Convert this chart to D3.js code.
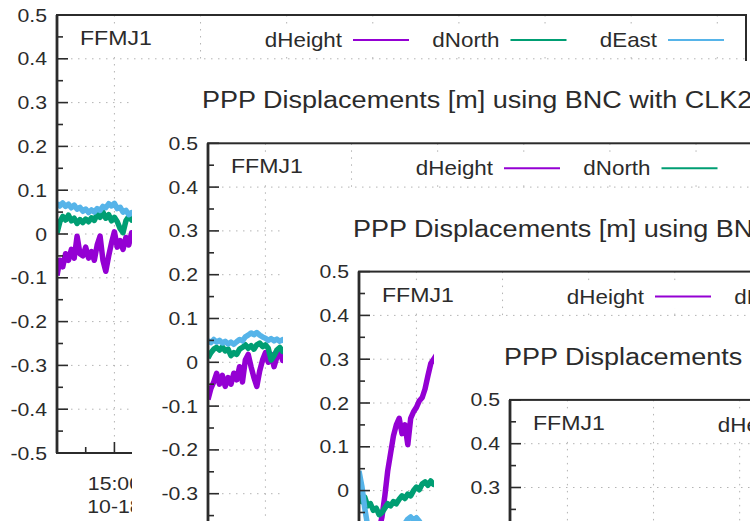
<!DOCTYPE html>
<html>
<head>
<meta charset="utf-8">
<script src="https://cdn.jsdelivr.net/npm/d3@7"></script>
<style>
  body { margin: 0; background: #fff; }
  svg { display: block; }
</style>
</head>
<body>
<svg id="chart" width="750" height="521"></svg>
<script>
const station = "FFMJ1";
const plotTitle = "PPP Displacements [m] using BNC with CLK22";
const seriesNames = ["dHeight", "dNorth", "dEast"];
const seriesColors = ["#9400d3", "#009e73", "#56b4e9"];
const yTicks = [0.5, 0.4, 0.3, 0.2, 0.1, 0, -0.1, -0.2, -0.3, -0.4, -0.5];
const yTickLabels = ["0.5", "0.4", "0.3", "0.2", "0.1", "0", "-0.1", "-0.2", "-0.3", "-0.4", "-0.5"];
const hourTicks = ["15:00", "16:00", "17:00", "18:00", "19:00", "20:00", "21:00", "22:00"];
const dayLabel = "10-18";

// minutes after 14:20
const sampleMinutes = [0, 2, 4, 6, 8, 10, 12, 14, 16, 18, 20, 22, 24, 26, 28, 30, 32, 34, 36, 38, 40, 42, 44, 46, 48, 50, 52, 54];

const heightA = [-0.095, -0.06, -0.075, -0.045, -0.06, -0.035, -0.055, -0.005, -0.045, -0.05, -0.03, -0.055, -0.04, -0.06, -0.025, -0.005, -0.06, -0.085, -0.05, -0.02, 0.005, -0.03, -0.015, -0.035, -0.008, -0.025, 0.003, -0.01];
const northA = [0.002, 0.028, 0.040, 0.032, 0.043, 0.030, 0.036, 0.024, 0.033, 0.026, 0.034, 0.028, 0.037, 0.031, 0.045, 0.038, 0.050, 0.036, 0.044, 0.030, 0.038, 0.028, 0.012, 0.003, 0.030, 0.040, 0.032, 0.038];
const eastA = [0.070, 0.064, 0.071, 0.063, 0.068, 0.060, 0.066, 0.057, 0.061, 0.052, 0.057, 0.049, 0.055, 0.050, 0.058, 0.054, 0.063, 0.060, 0.069, 0.064, 0.070, 0.058, 0.061, 0.050, 0.054, 0.044, 0.049, 0.043];

const heightB = [-0.085, -0.06, -0.045, -0.025, -0.05, -0.03, -0.055, -0.035, -0.05, -0.025, -0.04, -0.01, -0.045, 0.005, 0.018, -0.01, -0.035, -0.055, -0.02, 0.005, 0.022, 0.0, 0.018, -0.01, 0.012, 0.025, 0.004, 0.015];
const northB = [0.010, 0.022, 0.030, 0.034, 0.028, 0.035, 0.026, 0.030, 0.015, 0.022, 0.018, 0.030, 0.034, 0.040, 0.032, 0.038, 0.030, 0.040, 0.044, 0.036, 0.040, 0.032, 0.005, 0.015, 0.028, 0.034, 0.025, 0.030];
const eastB = [0.050, 0.045, 0.052, 0.046, 0.050, 0.044, 0.048, 0.042, 0.046, 0.041, 0.047, 0.052, 0.049, 0.058, 0.062, 0.067, 0.063, 0.068, 0.062, 0.058, 0.055, 0.050, 0.054, 0.049, 0.053, 0.048, 0.052, 0.047];

const heightC = [-0.12, -0.14, -0.13, -0.15, -0.12, -0.10, -0.11, -0.09, -0.06, -0.012, 0.045, 0.085, 0.125, 0.15, 0.165, 0.13, 0.15, 0.105, 0.165, 0.18, 0.19, 0.205, 0.212, 0.232, 0.262, 0.29, 0.30, 0.31];
const northC = [-0.01, -0.025, -0.015, -0.035, -0.03, -0.045, -0.04, -0.055, -0.05, -0.04, -0.03, -0.035, -0.025, -0.03, -0.02, -0.012, -0.018, -0.008, -0.012, 0.0, 0.008, 0.002, 0.015, 0.02, 0.012, 0.022, 0.014, 0.018];
const eastC = [0.045, 0.01, -0.04, -0.08, -0.09, -0.1, -0.11, -0.1, -0.12, -0.11, -0.1, -0.105, -0.09, -0.095, -0.085, -0.08, -0.075, -0.065, -0.06, -0.068, -0.062, -0.07, -0.08, -0.09, -0.095, -0.1, -0.1, -0.105];

const panels = [
  [heightA, northA, eastA],
  [heightB, northB, eastB],
  [heightC, northC, eastC],
  null
];

const width = 689, height = 438;        // plot frame
const stepX = 151, stepY = 128.3;       // offset of each nested copy
const font = "'Liberation Sans', Arial, sans-serif";
const ink = "#2b2b2b";

const svg = d3.select("#chart");
svg.append("rect").attr("width", 750).attr("height", 521).attr("fill", "#fff");
svg.append("defs").append("clipPath").attr("id", "plotClip")
  .append("rect").attr("width", width).attr("height", height);

const parseTime = d3.timeParse("%Y-%m-%d %H:%M");
const t0 = parseTime("2016-10-18 14:20");
const t1 = parseTime("2016-10-18 22:20");

const x = d3.scaleTime().domain([t0, t1]).range([0, width]);
const y = d3.scaleLinear().domain([-0.5, 0.5]).range([height, 0]);

const minorY = d3.range(-0.45, 0.5, 0.1);
const majorX = hourTicks.map(h => parseTime("2016-10-18 " + h));
const minorX = d3.timeMinute.every(20).range(t0, t1).filter(d => d.getMinutes() !== 0);

function label(g, px, py, str, size, sx, anchor) {
  return g.append("text")
    .attr("transform", `translate(${px},${py}) scale(${sx},1)`)
    .attr("font-family", font)
    .attr("font-size", size)
    .attr("fill", ink)
    .attr("text-anchor", anchor)
    .text(str);
}

const line = d3.line()
  .x(d => x(d3.timeMinute.offset(t0, d[0])))
  .y(d => y(d[1]));

panels.forEach((data, i) => {
  const L = 57 + stepX * i, T = 15 + stepY * i;

  if (i > 0) {
    // the next copy covers the lower right of the previous one
    const pL = 57 + stepX * (i - 1), pT = 15 + stepY * (i - 1);
    svg.append("rect")
      .attr("x", pL + 75).attr("y", pT + 46)
      .attr("width", 2000).attr("height", 2000)
      .attr("fill", "#fff");
    label(svg, L - 6, T - 35, plotTitle, 23, 1.175, "start");
  }

  const g = svg.append("g").attr("transform", `translate(${L},${T})`);

  // grid
  g.append("g").selectAll("line")
    .data(yTicks.filter(v => Math.abs(v) < 0.45))
    .join("line")
    .attr("x1", 0).attr("x2", width)
    .attr("y1", d => y(d)).attr("y2", d => y(d))
    .attr("stroke", "#b4b4b4").attr("stroke-dasharray", "1.5,5.5");
  g.append("g").selectAll("line")
    .data(majorX)
    .join("line")
    .attr("x1", d => x(d)).attr("x2", d => x(d))
    .attr("y1", 0).attr("y2", height)
    .attr("stroke", "#b4b4b4").attr("stroke-dasharray", "1.5,5.5");

  // series
  if (data) {
    const lines = g.append("g").attr("clip-path", "url(#plotClip)");
    data.forEach((vals, k) => {
      lines.append("path")
        .datum(sampleMinutes.map((m, j) => [m, vals[j]]))
        .attr("d", line)
        .attr("fill", "none")
        .attr("stroke", seriesColors[k])
        .attr("stroke-width", 5.5)
        .attr("stroke-linejoin", "round");
    });
  }

  // ticks
  g.append("g").selectAll("line")
    .data(yTicks)
    .join("line")
    .attr("x1", 0).attr("x2", 11)
    .attr("y1", d => y(d)).attr("y2", d => y(d))
    .attr("stroke", ink).attr("stroke-width", 1.6);
  g.append("g").selectAll("line")
    .data(minorY)
    .join("line")
    .attr("x1", 0).attr("x2", 6)
    .attr("y1", d => y(d)).attr("y2", d => y(d))
    .attr("stroke", ink).attr("stroke-width", 1.6);
  g.append("g").selectAll("line")
    .data(majorX)
    .join("line")
    .attr("x1", d => x(d)).attr("x2", d => x(d))
    .attr("y1", height).attr("y2", height - 11)
    .attr("stroke", ink).attr("stroke-width", 1.6);
  g.append("g").selectAll("line")
    .data(minorX)
    .join("line")
    .attr("x1", d => x(d)).attr("x2", d => x(d))
    .attr("y1", height).attr("y2", height - 6)
    .attr("stroke", ink).attr("stroke-width", 1.6);

  // frame
  g.append("rect")
    .attr("width", width).attr("height", height)
    .attr("fill", "none").attr("stroke", ink).attr("stroke-width", 2);
  g.append("line")
    .attr("x1", 0).attr("x2", 0).attr("y1", 0).attr("y2", height)
    .attr("stroke", ink).attr("stroke-width", 2.8);

  // tick labels
  yTicks.forEach((v, j) => label(g, -10, y(v) + 6.5, yTickLabels[j], 18, 1.18, "end"));
  majorX.forEach((d, j) => {
    label(g, x(d), height + 37, hourTicks[j], 18, 1.18, "middle");
    label(g, x(d), height + 60, dayLabel, 18, 1.18, "middle");
  });

  // station label and key, both opaque
  g.append("rect").attr("x", 18).attr("y", 9).attr("width", 86).attr("height", 28).attr("fill", "#fff");
  label(g, 23, 30, station, 21, 1.1, "start");

  g.append("rect").attr("x", 195).attr("y", 9).attr("width", 487).attr("height", 28).attr("fill", "#fff");
  const key = g.append("g").selectAll("g")
    .data(seriesNames)
    .join("g")
    .attr("transform", (d, k) => `translate(${285 + k * 157.5},0)`);
  key.each(function (d, k) {
    const e = d3.select(this);
    label(e, 0, 32, d, 20, 1.12, "end");
    e.append("line")
      .attr("x1", 11).attr("x2", 67).attr("y1", 25).attr("y2", 25)
      .attr("stroke", seriesColors[k]).attr("stroke-width", 2);
  });
});
</script>
</body>
</html>
